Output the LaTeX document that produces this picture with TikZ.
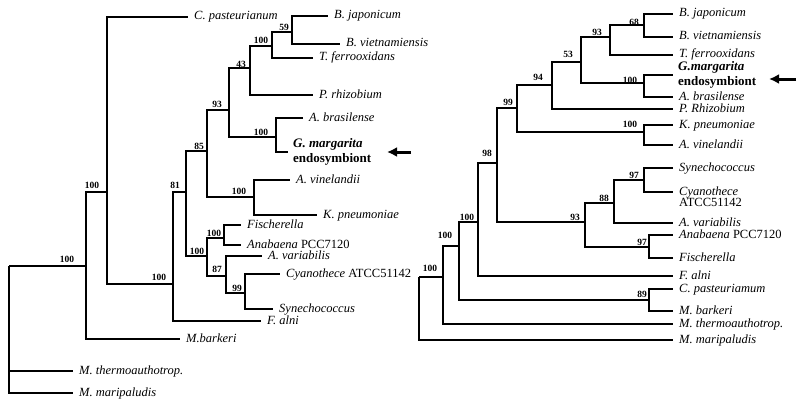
\documentclass[tikz,border=0pt]{standalone}
\usepackage{fontspec}
\setmainfont{Liberation Serif}
\usetikzlibrary{arrows.meta}

\begin{document}
\begin{tikzpicture}[x=1pt,y=-1pt]
    \tikzset{%
      branch/.style={line width=1.9pt},
      leaf/.style={anchor=west, inner xsep=6pt, inner ysep=0pt,
        font=\fontsize{12.5}{14}\selectfont\itshape, text height=8.5pt,
        text depth=2.5pt},
      gm/.style={anchor=west, inner xsep=5pt, inner ysep=0pt, align=left,
        font=\fontsize{13}{15}\selectfont\bfseries},
      boot/.style={inner sep=0pt, font=\fontsize{9.5}{10}\selectfont\bfseries},
      pointer/.style={line width=3pt, -{Latex[length=10pt,width=10pt]}},
    }
    \useasboundingbox (0,0) rectangle (800,404);

    % left tree
    \coordinate (A) at (9,266);
    \coordinate (B) at (86,266);
    \coordinate (C) at (107,192);
    \coordinate (D) at (173,284);
    \coordinate (E) at (186,192);
    \coordinate (F) at (207,151);
    \coordinate (G) at (229,110);
    \coordinate (H) at (250,68);
    \coordinate (I) at (272,46);
    \coordinate (J) at (292,32);
    \coordinate (K) at (276,137);
    \coordinate (L) at (254,197);
    \coordinate (M) at (207,256);
    \coordinate (N) at (224,238);
    \coordinate (O) at (226,276);
    \coordinate (P) at (245,293);

    \node[leaf] (cpas) at (188,17) {C. pasteurianum};
    \node[leaf] (bjap) at (328,16) {B. japonicum};
    \node[leaf] (bvie) at (340,44) {B. vietnamiensis};
    \node[leaf] (tfer) at (313,58) {T. ferrooxidans};
    \node[leaf] (prhi) at (313,95) {P. rhizobium};
    \node[leaf] (abra) at (303,118) {A. brasilense};
    \node[gm] (gmar) at (288,152) {\textit{G. margarita}\\endosymbiont};
    \node[leaf] (avin) at (290,180) {A. vinelandii};
    \node[leaf] (kpne) at (317,215) {K. pneumoniae};
    \node[leaf] (fisc) at (241,225) {Fischerella};
    \node[leaf] (anab) at (241,245) {Anabaena \textup{PCC7120}};
    \node[leaf] (avar) at (262,256) {A. variabilis};
    \node[leaf] (cyan) at (280,274) {Cyanothece \textup{ATCC51142}};
    \node[leaf] (syne) at (273,309) {Synechococcus};
    \node[leaf] (faln) at (261,321) {F. alni};
    \node[leaf] (mbar) at (180,339) {M.barkeri};
    \node[leaf] (mthe) at (73,371) {M. thermoauthotrop.};
    \node[leaf] (mmar) at (73,393) {M. maripaludis};

    \draw[branch] (A) |- (B);
    \draw[branch] (A) |- (mthe.west);
    \draw[branch] (A) |- (mmar.west);
    \draw[branch] (B) |- (C);
    \draw[branch] (B) |- (mbar.west);
    \draw[branch] (C) |- (cpas.west);
    \draw[branch] (C) |- (D);
    \draw[branch] (D) |- (E);
    \draw[branch] (D) |- (faln.west);
    \draw[branch] (E) |- (F);
    \draw[branch] (E) |- (M);
    \draw[branch] (F) |- (G);
    \draw[branch] (F) |- (L);
    \draw[branch] (G) |- (H);
    \draw[branch] (G) |- (K);
    \draw[branch] (H) |- (I);
    \draw[branch] (H) |- (prhi.west);
    \draw[branch] (I) |- (J);
    \draw[branch] (I) |- (tfer.west);
    \draw[branch] (J) |- (bjap.west);
    \draw[branch] (J) |- (bvie.west);
    \draw[branch] (K) |- (abra.west);
    \draw[branch] (K) |- (gmar.west);
    \draw[branch] (L) |- (avin.west);
    \draw[branch] (L) |- (kpne.west);
    \draw[branch] (M) |- (N);
    \draw[branch] (M) |- (O);
    \draw[branch] (N) |- (fisc.west);
    \draw[branch] (N) |- (anab.west);
    \draw[branch] (O) |- (avar.west);
    \draw[branch] (O) |- (P);
    \draw[branch] (P) |- (cyan.west);
    \draw[branch] (P) |- (syne.west);

    \node[boot] (sB) at (67,259) {100};
    \node[boot] (sC) at (92,185) {100};
    \node[boot] (sD) at (159,277) {100};
    \node[boot] (sE) at (175,185) {81};
    \node[boot] (sF) at (199,146) {85};
    \node[boot] (sG) at (217,104) {93};
    \node[boot] (sH) at (241,64) {43};
    \node[boot] (sI) at (261,40) {100};
    \node[boot] (sJ) at (284,27) {59};
    \node[boot] (sK) at (261,132) {100};
    \node[boot] (sL) at (239,191) {100};
    \node[boot] (sM) at (197,251) {100};
    \node[boot] (sN) at (214,233) {100};
    \node[boot] (sO) at (217,269) {87};
    \node[boot] (sP) at (237,288) {99};

    \coordinate (arr) at (411,152);
    \coordinate (tip) at (387,152);
    \draw[pointer] (arr) -- (tip);

    % right tree
    \coordinate (A1) at (419,277);
    \coordinate (B1) at (443,277);
    \coordinate (C1) at (459,246);
    \coordinate (D1) at (478,222);
    \coordinate (E1) at (497,163);
    \coordinate (F1) at (517,108);
    \coordinate (G1) at (552,85);
    \coordinate (H1) at (581,62);
    \coordinate (I1) at (610,37);
    \coordinate (J1) at (644,25);
    \coordinate (K1) at (644,83);
    \coordinate (L1) at (644,132);
    \coordinate (M1) at (585,222);
    \coordinate (N1) at (614,203);
    \coordinate (O1) at (644,180);
    \coordinate (P1) at (649,247);
    \coordinate (Q1) at (649,300);

    \node[leaf] (bjap1) at (673,14) {B. japonicum};
    \node[leaf] (bvie1) at (673,37) {B. vietnamiensis};
    \node[leaf] (tfer1) at (673,55) {T. ferrooxidans};
    \node[gm] (gmar1) at (673,75) {\textit{G.margarita}\\endosymbiont};
    \node[leaf] (abra1) at (673,97) {A. brasilense};
    \node[leaf] (prhi1) at (673,109) {P. Rhizobium};
    \node[leaf] (kpne1) at (673,125) {K. pneumoniae};
    \node[leaf] (avin1) at (673,145) {A. vinelandii};
    \node[leaf] (syne1) at (673,168) {Synechococcus};
    \node[leaf] (cyan1) at (673,192) {Cyanothece};
    \node[leaf, font=\fontsize{12.5}{14}\selectfont, anchor=north west]
      (atcc1) at (cyan1.south west) {ATCC51142};
    \node[leaf] (avar1) at (673,223) {A. variabilis};
    \node[leaf] (anab1) at (673,235) {Anabaena \textup{PCC7120}};
    \node[leaf] (fisc1) at (673,258) {Fischerella};
    \node[leaf] (faln1) at (673,276) {F. alni};
    \node[leaf] (cpas1) at (673,289) {C. pasteuriamum};
    \node[leaf] (mbar1) at (673,311) {M. barkeri};
    \node[leaf] (mthe1) at (673,324) {M. thermoauthotrop.};
    \node[leaf] (mmar1) at (673,340) {M. maripaludis};

    \draw[branch] (A1) |- (B1);
    \draw[branch] (A1) |- (mmar1.west);
    \draw[branch] (B1) |- (C1);
    \draw[branch] (B1) |- (mthe1.west);
    \draw[branch] (C1) |- (D1);
    \draw[branch] (C1) |- (Q1);
    \draw[branch] (Q1) |- (cpas1.west);
    \draw[branch] (Q1) |- (mbar1.west);
    \draw[branch] (D1) |- (E1);
    \draw[branch] (D1) |- (faln1.west);
    \draw[branch] (E1) |- (F1);
    \draw[branch] (E1) |- (M1);
    \draw[branch] (F1) |- (G1);
    \draw[branch] (F1) |- (L1);
    \draw[branch] (G1) |- (H1);
    \draw[branch] (G1) |- (prhi1.west);
    \draw[branch] (H1) |- (I1);
    \draw[branch] (H1) |- (K1);
    \draw[branch] (I1) |- (J1);
    \draw[branch] (I1) |- (tfer1.west);
    \draw[branch] (J1) |- (bjap1.west);
    \draw[branch] (J1) |- (bvie1.west);
    \draw[branch] (K1) |- (gmar1.west);
    \draw[branch] (K1) |- (abra1.west);
    \draw[branch] (L1) |- (kpne1.west);
    \draw[branch] (L1) |- (avin1.west);
    \draw[branch] (M1) |- (N1);
    \draw[branch] (M1) |- (P1);
    \draw[branch] (N1) |- (O1);
    \draw[branch] (N1) |- (avar1.west);
    \draw[branch] (O1) |- (syne1.west);
    \draw[branch] (O1) |- (cyan1.west);
    \draw[branch] (P1) |- (anab1.west);
    \draw[branch] (P1) |- (fisc1.west);

    \node[boot] (sB1) at (430,268) {100};
    \node[boot] (sC1) at (445,235) {100};
    \node[boot] (sD1) at (467,217) {100};
    \node[boot] (sE1) at (487,153) {98};
    \node[boot] (sF1) at (508,102) {99};
    \node[boot] (sG1) at (538,77) {94};
    \node[boot] (sH1) at (568,54) {53};
    \node[boot] (sI1) at (597,32) {93};
    \node[boot] (sJ1) at (634,22) {68};
    \node[boot] (sK1) at (630,80) {100};
    \node[boot] (sL1) at (630,124) {100};
    \node[boot] (sM1) at (575,217) {93};
    \node[boot] (sN1) at (604,198) {88};
    \node[boot] (sO1) at (634,175) {97};
    \node[boot] (sP1) at (642,242) {97};
    \node[boot] (sQ1) at (642,294) {89};

    \coordinate (arr1) at (796,79);
    \coordinate (tip1) at (769,79);
    \draw[pointer] (arr1) -- (tip1);
\end{tikzpicture}
\end{document}
